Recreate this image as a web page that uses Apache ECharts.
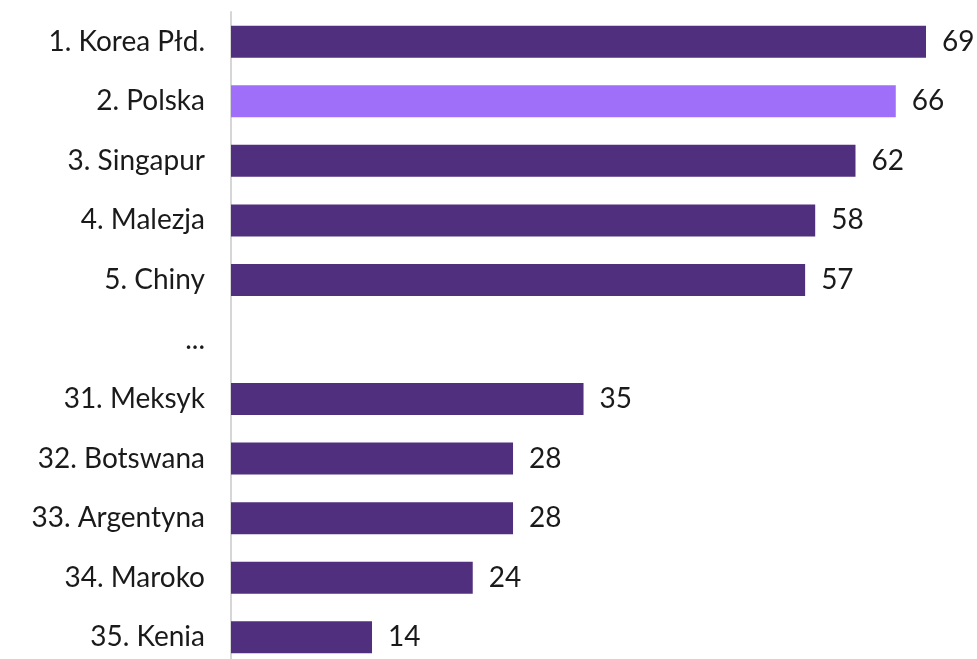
<!DOCTYPE html>
<html>
<head>
<meta charset="utf-8">
<script src="https://cdn.jsdelivr.net/npm/echarts@6/dist/echarts.min.js"></script>
<style>
  html, body { margin: 0; padding: 0; background: #fff; }
  #chart { width: 977px; height: 659px; }
</style>
</head>
<body>
<div id="chart"></div>
<script>
var categories = ['1. Korea Płd.', '2. Polska', '3. Singapur', '4. Malezja', '5. Chiny', '...',
    '31. Meksyk', '32. Botswana', '33. Argentyna', '34. Maroko', '35. Kenia'];
var values = [69, 66, 62, 58, 57, null, 35, 28, 28, 24, 14];
var highlight = '2. Polska';

var darkColor = '#502f7e';
var lightColor = '#a06ffa';

var myChart = echarts.init(document.getElementById('chart'));

var barData = values.map(function (v, i) {
    return {
        value: v,
        itemStyle: { color: categories[i] === highlight ? lightColor : darkColor }
    };
});

var option = {
    animation: false,
    grid: { left: 231, top: 12, width: 695, height: 655, outerBoundsMode: 'none' },
    xAxis: {
        type: 'value',
        min: 0,
        max: 69,
        show: false
    },
    yAxis: {
        type: 'category',
        data: categories,
        inverse: true,
        axisLine: { show: true, lineStyle: { color: '#d6d6d6', width: 2 } },
        axisTick: { show: false },
        axisLabel: {
            margin: 26,
            color: '#1a1a1a',
            fontFamily: 'Lato',
            fontSize: 28
        }
    },
    series: [
        {
            type: 'bar',
            data: barData,
            barWidth: 32,
            label: {
                show: true,
                position: 'right',
                distance: 16,
                color: '#1a1a1a',
                fontFamily: 'Lato',
                fontSize: 28
            }
        }
    ]
};
myChart.setOption(option);
</script>
</body>
</html>
